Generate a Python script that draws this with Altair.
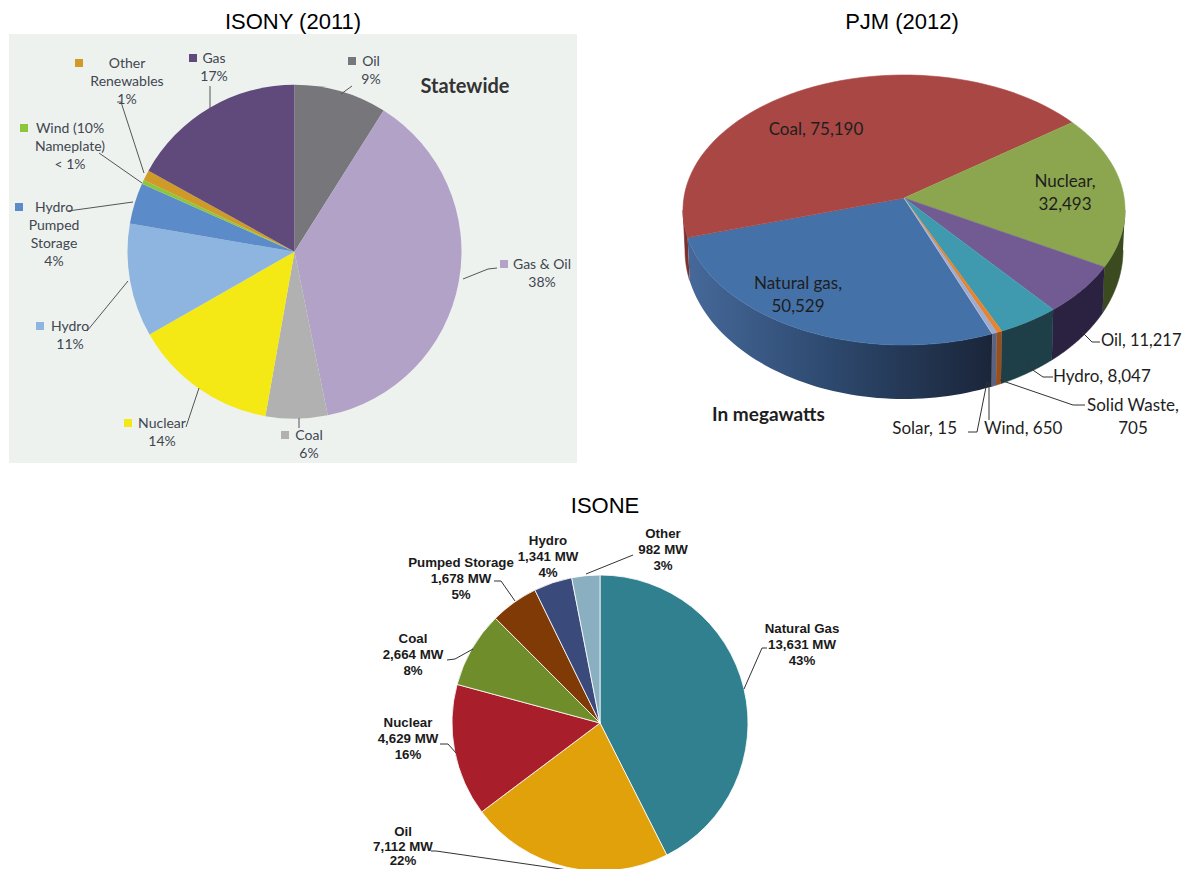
import altair as alt
import pandas as pd

# ---------------- data ----------------
isony_cats = ["Oil", "Gas & Oil", "Coal", "Nuclear", "Hydro",
              "Hydro Pumped Storage", "Wind (10% Nameplate)", "Other Renewables", "Gas"]
isony_share = [9, 38, 6, 14, 11, 4, 0.4, 1, 17]
isony_text = ["Oil\n9%", "Gas & Oil\n38%", "Coal\n6%", "Nuclear\n14%", "Hydro\n11%",
              "Hydro\nPumped\nStorage\n4%", "Wind (10%\nNameplate)\n< 1%",
              "Other\nRenewables\n1%", "Gas\n17%"]

pjm_cats = ["Natural gas", "Coal", "Nuclear", "Oil", "Hydro", "Solid Waste", "Wind", "Solar"]
pjm_mw = [50529, 75190, 32493, 11217, 8047, 705, 650, 15]
pjm_text = ["Natural gas,\n50,529", "Coal, 75,190", "Nuclear,\n32,493", "Oil, 11,217",
            "Hydro, 8,047", "Solid Waste,\n705", "Wind, 650", "Solar, 15"]

isone_cats = ["Natural Gas", "Oil", "Nuclear", "Coal", "Pumped Storage", "Hydro", "Other"]
isone_mw = [13631, 7112, 4629, 2664, 1678, 1341, 982]
isone_pct = ["43%", "22%", "16%", "8%", "5%", "4%", "3%"]
isone_mw_text = ["13,631 MW", "7,112 MW", "4,629 MW", "2,664 MW", "1,678 MW", "1,341 MW", "982 MW"]

titles = ["ISONY (2011)", "PJM (2012)", "ISONE"]

# ---------------- styles ----------------
isony_colors = ["#77777b", "#b3a2c8", "#b1b1b2", "#f4e914", "#8eb4e0",
                "#5b8bc9", "#8cc63e", "#d09a28", "#604a7b"]
pjm_colors = ["#4471a7", "#a94744", "#8ba64f", "#725a92", "#3f9ab0", "#e6852e", "#9eaad0", "#c4cadb"]
pjm_side_colors = ["#2d4a70", "#7a302d", "#3b4a1f", "#2a2240", "#1e3f48", "#9a4f1a", "#5a6480", "#6a7490"]
isone_colors = ["#31808f", "#e1a10b", "#a81f2b", "#6f8e2b", "#7f3a05", "#394a7b", "#8aafc1"]

# ---------------- layout (page pixels) ----------------
W, H, M = 1174, 861, 8
XS = alt.Scale(domain=[M, W + M], range=[0, W], nice=False, zero=False)
YS = alt.Scale(domain=[M, H + M], range=[0, H], nice=False, zero=False)

ISONY_C, ISONY_R = (294.5, 251.7), 167
ISONE_C, ISONE_R = (600, 723), 148
PJM_APEX = (904, 198)
PJM_TOP = dict(cx=904, cy=210, rx=221, ry=135)
PJM_BOT = dict(cx=904, cy=250, rx=219, ry=149)
PJM_START = 156.5
N = 60

isony_label_pos = [(371, 61), (542, 264), (309, 435), (162, 423), (70, 326),
                   (54, 207), (70, 128), (127, 63), (214, 58)]
isony_square_pos = [(352, 61), (504, 264), (285, 435), (128, 423), (40, 326),
                    (19, 207), (24, 128), (79, 63), (193, 58)]
isony_leaders = [
    [(341, 94), (352, 86)],
    [(463, 279), (488, 269), (497, 268)],
    [(299, 418), (299, 428)],
    [(186, 427), (199, 388)],
    [(87, 331), (128, 281)],
    [(68, 211), (133, 202)],
    [(99, 153), (142, 183)],
    [(117, 102), (121, 102), (144, 173)],
    [(210, 86), (210, 108)],
]

# (x, first-line centre y, align, font size)
pjm_label_pos = [(798, 283, "center", 17), (816, 129, "center", 17), (1065, 181, "center", 17),
                 (1101, 340, "left", 16.5), (1053, 376, "left", 17), (1133, 405, "center", 17),
                 (984, 428, "left", 17), (957, 428, "right", 17)]
pjm_leaders = [
    [(1082, 332), (1092, 342), (1100, 342)],
    [(1027, 366), (1043, 377), (1053, 377)],
    [(1000, 380), (1073, 405), (1085, 405)],
    [(989, 382), (989, 420)],
    [(987, 382), (977, 432), (968, 432)],
]

# (x, first-line centre y, line height)
isone_label_pos = [(802, 628, 15.7), (403, 831, 14.5), (408, 722, 15.7), (413, 638, 15.7),
                   (461, 562, 15.7), (548, 540, 15.7), (663, 533, 15.7)]
isone_leaders = [
    [(767, 648), (762, 648), (744, 689)],
    [(431, 851), (436, 851), (568, 870)],
    [(440, 744), (448, 744), (456, 753)],
    [(447, 660), (455, 659), (473, 649)],
    [(494, 581), (501, 581), (515, 601)],
    [(586, 574), (633, 555)],
]

title_pos = [(293, 29), (902, 29), (605, 513)]


def xy(fx="x", fy="y"):
    return dict(x=alt.X(f"{fx}:Q", scale=XS, axis=None),
                y=alt.Y(f"{fy}:Q", scale=YS, axis=None))


def text_layer(texts, pos, font, size, weight, color, align, lh):
    rows = [dict(t=t, x=p[0], y=p[1] - 0.43 * size) for t, p in zip(texts, pos)]
    return alt.Chart(pd.DataFrame(rows)).mark_text(
        font=font, fontSize=size, fontWeight=weight, color=color, align=align,
        baseline="top", lineBreak="\n", lineHeight=lh
    ).encode(text="t:N", **xy())


def leader_layer(polys, color):
    rows = [dict(id=i, k=k, x=p[0], y=p[1]) for i, poly in enumerate(polys) for k, p in enumerate(poly)]
    return alt.Chart(pd.DataFrame(rows)).mark_line(color=color, strokeWidth=1).encode(
        detail="id:N", order="k:Q", **xy())


# ---------------- ISONY ----------------
bg = alt.Chart(pd.DataFrame({"a": [0]})).mark_rect(color="#eef2ef").encode(
    x=alt.value(9 - M), x2=alt.value(577 - M), y=alt.value(34 - M), y2=alt.value(463 - M))

isony_df = pd.DataFrame({"cat": isony_cats, "share": isony_share, "idx": range(len(isony_cats)),
                         "cx": ISONY_C[0], "cy": ISONY_C[1]})
isony_pie = alt.Chart(isony_df).mark_arc(radius=ISONY_R).encode(
    theta=alt.Theta("share:Q", stack=True),
    order=alt.Order("idx:Q"),
    color=alt.Color("cat:N", scale=alt.Scale(domain=isony_cats, range=isony_colors), legend=None),
    **xy("cx", "cy"))

sq_df = pd.DataFrame({"cat": isony_cats, "x": [p[0] for p in isony_square_pos],
                      "y": [p[1] for p in isony_square_pos]})
isony_sq = alt.Chart(sq_df).mark_square(size=64, opacity=1).encode(
    color=alt.Color("cat:N", scale=alt.Scale(domain=isony_cats, range=isony_colors), legend=None),
    **xy())

isony_lbl = text_layer(isony_text, isony_label_pos, "Lato", 14, "normal", "#41464f", "center", 18)
statewide = text_layer(["Statewide"], [(465, 86)], "Lato", 20, "bold", "#333333", "center", 20)
isony_lead = leader_layer(isony_leaders, "#555555")

# ---------------- PJM (3-D pie) ----------------
pjm_rows = [dict(name=c, value=v, idx=i, steps=list(range(2 * N + 2)))
            for i, (c, v) in enumerate(zip(pjm_cats, pjm_mw))]
T, B = PJM_TOP, PJM_BOT
pjm_base = alt.Chart(alt.Data(values=pjm_rows)).transform_window(
    cum="sum(value)", sort=[alt.SortField("idx")]
).transform_joinaggregate(total="sum(value)").transform_calculate(
    a0=f"{PJM_START} + 360 * (datum.cum - datum.value) / datum.total",
    a1=f"{PJM_START} + 360 * datum.cum / datum.total",
).transform_flatten(["steps"], as_=["k"])

pjm_color = alt.Color("name:N", scale=alt.Scale(domain=pjm_cats, range=pjm_colors), legend=None)
pjm_side_color = alt.Color("name:N", scale=alt.Scale(domain=pjm_cats, range=pjm_side_colors), legend=None)

side = pjm_base.transform_calculate(
    s1="max(datum.a0, 90)", e1="min(datum.a1, 270)",
    s2="max(datum.a0, 450)", e2="min(datum.a1, 630)",
).transform_calculate(
    sa="datum.e1 > datum.s1 ? datum.s1 : datum.s2",
    ea="datum.e1 > datum.s1 ? datum.e1 : datum.e2",
).transform_filter("datum.ea > datum.sa").transform_calculate(
    j=f"datum.k <= {N} ? datum.k : {2 * N + 1} - datum.k",
).transform_calculate(
    ang=f"(datum.sa + (datum.ea - datum.sa) * datum.j / {N}) * PI / 180",
).transform_calculate(
    px=f"datum.k <= {N} ? {T['cx']} + {T['rx']} * sin(datum.ang) : {B['cx']} + {B['rx']} * sin(datum.ang)",
    py=f"datum.k <= {N} ? {T['cy']} - {T['ry']} * cos(datum.ang) : {B['cy']} - {B['ry']} * cos(datum.ang)",
)

side_solid = side.transform_filter(f"datum.name != '{pjm_cats[0]}'").mark_line(
    filled=True, strokeWidth=0.6).encode(
    color=pjm_side_color, stroke=alt.Stroke("name:N", scale=alt.Scale(domain=pjm_cats, range=pjm_side_colors), legend=None),
    detail="name:N", order="k:Q", **xy("px", "py"))

gas_grad = alt.Gradient(gradient="linear", x1=0, x2=1, y1=0, y2=0, stops=[
    alt.GradientStop(color="#46699a", offset=0),
    alt.GradientStop(color="#2e4a70", offset=0.45),
    alt.GradientStop(color="#1a2539", offset=1)])
side_gas = side.transform_filter(f"datum.name == '{pjm_cats[0]}'").mark_line(
    filled=True, fill=gas_grad).encode(detail="name:N", order="k:Q", **xy("px", "py"))

top = pjm_base.transform_filter(f"datum.k <= {N + 1}").transform_calculate(
    ang=f"(datum.a0 + (datum.a1 - datum.a0) * (datum.k - 1) / {N}) * PI / 180",
).transform_calculate(
    px=f"datum.k == 0 ? {PJM_APEX[0]} : {T['cx']} + {T['rx']} * sin(datum.ang)",
    py=f"datum.k == 0 ? {PJM_APEX[1]} : {T['cy']} - {T['ry']} * cos(datum.ang)",
).mark_line(filled=True, strokeWidth=0.6).encode(
    color=pjm_color, stroke=alt.Stroke("name:N", scale=alt.Scale(domain=pjm_cats, range=pjm_colors), legend=None),
    detail="name:N", order="k:Q", **xy("px", "py"))

pjm_layers = []
for al, fs in [("left", 17), ("left", 16.5), ("center", 17), ("right", 17)]:
    sel = [(t, (p[0], p[1])) for t, p in zip(pjm_text, pjm_label_pos) if p[2] == al and p[3] == fs]
    if sel:
        pjm_layers.append(text_layer([s[0] for s in sel], [s[1] for s in sel],
                                     "Lato", fs, "normal", "#1e1e1e", al, 23))
megawatts = text_layer(["In megawatts"], [(712, 414)], "Lato", 19, "bold", "#1e1e1e", "left", 19)
pjm_lead = leader_layer(pjm_leaders, "#333333")

# ---------------- ISONE ----------------
isone_df = pd.DataFrame({"cat": isone_cats, "mw": isone_mw, "idx": range(len(isone_cats)),
                         "cx": ISONE_C[0], "cy": ISONE_C[1]})
isone_pie = alt.Chart(isone_df).mark_arc(radius=ISONE_R, stroke="white", strokeWidth=0.8).encode(
    theta=alt.Theta("mw:Q", stack=True),
    order=alt.Order("idx:Q"),
    color=alt.Color("cat:N", scale=alt.Scale(domain=isone_cats, range=isone_colors), legend=None),
    **xy("cx", "cy"))
isone_text = [f"{c}\n{m}\n{p}" for c, m, p in zip(isone_cats, isone_mw_text, isone_pct)]
isone_layers = []
for lh in sorted(set(p[2] for p in isone_label_pos)):
    sel = [(t, (p[0], p[1])) for t, p in zip(isone_text, isone_label_pos) if p[2] == lh]
    isone_layers.append(text_layer([s[0] for s in sel], [s[1] for s in sel],
                                   "Liberation Sans", 13.3, "bold", "#1a1a1a", "center", lh))
isone_lead = leader_layer(isone_leaders, "#333333")

# ---------------- titles ----------------
title_df = pd.DataFrame({"t": titles, "x": [p[0] for p in title_pos], "y": [p[1] for p in title_pos]})
title_layer = alt.Chart(title_df).mark_text(
    font="Liberation Sans", fontSize=22, color="#000000", align="center", baseline="alphabetic"
).encode(text="t:N", **xy())

chart = alt.layer(
    bg, isony_pie, isony_lead, isony_sq, isony_lbl, statewide,
    side_solid, side_gas, top, pjm_lead, *pjm_layers, megawatts,
    isone_pie, isone_lead, *isone_layers, title_layer
).resolve_scale(theta="independent", color="independent", stroke="independent").properties(
    width=W, height=H, padding=0, autosize=alt.AutoSizeParams(type="none"), background="white"
).configure_view(stroke=None)

chart.save("out.html", embed_options={"renderer": "svg", "actions": False})
